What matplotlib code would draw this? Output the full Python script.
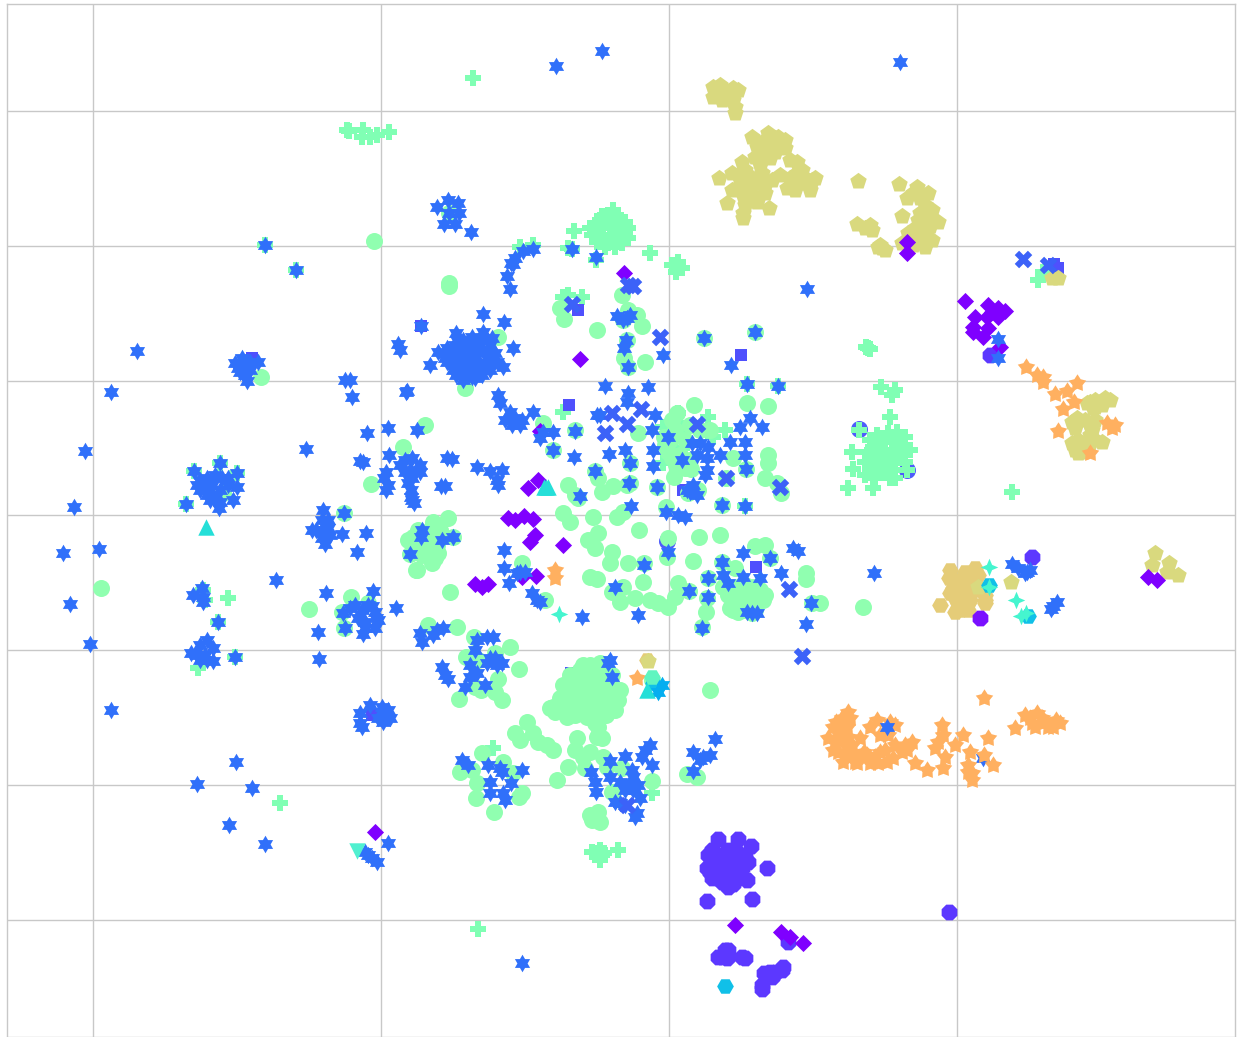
"""
Scatter of embedded points, one marker and colour per class.
Point values are read off the picture, axes run in the same units.
"""

import numpy as np
import matplotlib
matplotlib.use("Agg")
import matplotlib.pyplot as plt
from matplotlib.path import Path

x_ticks = [93, 381, 669, 957]
y_ticks = [111, 246, 381, 515, 650, 785, 920]

blue_circle = [(859, 429), (907, 470), (667, 541)]

plus_pts = [
    (473, 78), (347, 130), (349, 131), (363, 130), (362, 137), (370, 137), (377, 135), (389, 132), (478, 929),
    (280, 803), (228, 598), (198, 668), (574, 231), (568, 248), (650, 253), (672, 265), (678, 262), (682, 268),
    (676, 272), (613, 210), (600, 220), (608, 215), (616, 215), (625, 222), (625, 232), (618, 240), (608, 243),
    (600, 238), (595, 230), (610, 228), (617, 228), (603, 228), (610, 235), (595, 225), (628, 228), (602, 216),
    (618, 220), (590, 228), (592, 235), (597, 242), (605, 247), (615, 247), (622, 243), (628, 238),
    (604, 222), (612, 222), (620, 226), (622, 236), (613, 236), (604, 241),
    (598, 233), (568, 295), (582, 297), (563, 297), (533, 245), (520, 247), (596, 260), (868, 348), (866, 347),
    (870, 349), (881, 387), (892, 395), (895, 390), (890, 417), (1012, 492), (848, 488), (873, 488), (853, 469),
    (852, 452), (870, 440), (877, 435), (888, 433), (897, 432), (905, 437), (910, 450), (905, 462), (895, 470),
    (890, 478), (875, 478), (865, 475), (865, 462), (872, 450), (885, 450), (895, 450), (880, 465), (890, 462),
    (900, 445), (868, 452), (880, 442), (907, 470), (859, 430), (876, 445), (884, 442), (892, 440), (900, 440),
    (875, 457), (882, 456), (890, 455), (900, 457), (878, 470), (885, 472), (895, 478), (870, 468), (872, 462),
    (883, 465), (895, 463), (905, 455), (1038, 280), (1043, 272), (592, 852), (600, 850),
    (602, 855), (600, 860), (618, 850), (597, 853), (604, 853), (652, 793), (493, 748), (563, 412), (678, 413),
    (663, 427), (708, 417), (673, 437), (682, 448), (672, 452), (663, 463), (713, 437), (725, 430), (677, 423),
    (680, 430), (670, 447), (675, 455), (265, 245), (296, 270), (194, 471), (220, 463), (237, 473), (186, 504),
    (218, 622), (235, 657), (203, 590), (205, 600), (572, 249), (747, 384), (778, 386), (745, 506),
]

square_pts = [
    (421, 326), (578, 310), (741, 355), (569, 405), (252, 358), (1054, 264), (1058, 268), (571, 673), (756, 567),
    (372, 715), (683, 490),
]

circle_pts = [
    (374, 241), (449, 283), (449, 286), (261, 377), (101, 588), (309, 609), (710, 690), (863, 607), (465, 388),
    (425, 425), (403, 447), (371, 484), (344, 513), (351, 597), (368, 603), (342, 612), (344, 628), (416, 570),
    (223, 493), (622, 295), (560, 308), (564, 319), (597, 330), (628, 310), (637, 315), (642, 326), (623, 320),
    (627, 340), (624, 358), (628, 367), (645, 362), (704, 338), (755, 332), (498, 337), (449, 213), (543, 423),
    (553, 450), (575, 430), (638, 433), (595, 471), (598, 478), (630, 463), (613, 486), (602, 492), (630, 483),
    (627, 485), (568, 485), (575, 495), (578, 498), (657, 487), (691, 469), (674, 477), (733, 458), (746, 469),
    (747, 403), (768, 406), (677, 413), (694, 405), (768, 455), (768, 463), (765, 478), (777, 483), (781, 493),
    (698, 490), (688, 493), (726, 478), (722, 505), (617, 517), (623, 512), (563, 513), (570, 522), (593, 517),
    (639, 530), (666, 507), (588, 540), (598, 533), (595, 548), (612, 552), (610, 563), (628, 563), (644, 563),
    (668, 538), (667, 557), (699, 537), (720, 535), (693, 561), (590, 577), (597, 579), (643, 582), (623, 587),
    (612, 592), (620, 602), (635, 598), (650, 600), (658, 603), (668, 607), (678, 583), (675, 597), (689, 591),
    (708, 578), (707, 598), (706, 612), (702, 627), (722, 562), (735, 568), (755, 546), (765, 545), (770, 558),
    (806, 579), (806, 573), (812, 603), (820, 603), (733, 597), (733, 610), (747, 593), (753, 587), (763, 600),
    (743, 603), (752, 613), (723, 587), (738, 587), (760, 590), (728, 595), (740, 600), (750, 600), (755, 595),
    (745, 585), (735, 605), (745, 610), (755, 610), (765, 595), (730, 608), (738, 612), (450, 592), (417, 570),
    (432, 563), (413, 537), (433, 522), (448, 518), (438, 553), (428, 550), (423, 543), (432, 537), (410, 554),
    (453, 537), (418, 530), (425, 535), (428, 545), (422, 555), (430, 530), (440, 530), (415, 550), (437, 545),
    (435, 558), (408, 540), (545, 600), (672, 420), (690, 425), (675, 430), (685, 440), (670, 440), (665, 445),
    (700, 430), (710, 430), (680, 455), (690, 460), (685, 468), (676, 465), (672, 458), (664, 437), (668, 452),
    (522, 563), (457, 627), (428, 625), (510, 647), (519, 669), (474, 637), (466, 657), (498, 679), (481, 690),
    (495, 692), (502, 700), (459, 699), (475, 687), (478, 660), (495, 653), (570, 675), (563, 685), (553, 707),
    (567, 717), (580, 670), (600, 663), (613, 687), (618, 700), (607, 707), (595, 723), (587, 717), (577, 697),
    (590, 687), (600, 697), (590, 673), (607, 677), (573, 710), (600, 680), (585, 700), (563, 710), (593, 710),
    (613, 700), (575, 680), (585, 680), (595, 670), (605, 665), (612, 675), (568, 695), (575, 705), (590, 695),
    (605, 690), (610, 695), (600, 710), (585, 712), (575, 715), (595, 715), (605, 700), (585, 690), (570, 690),
    (580, 690), (560, 698), (620, 690), (615, 710), (606, 715), (598, 727), (583, 665), (590, 665), (550, 708),
    (555, 712), (597, 737), (602, 738), (527, 722), (515, 733), (520, 740), (533, 733), (538, 742), (547, 745),
    (553, 750), (577, 738), (575, 750), (590, 752), (583, 757), (603, 757), (568, 767), (557, 780), (585, 768),
    (613, 792), (590, 815), (598, 812), (600, 822), (592, 820), (460, 772), (477, 783), (482, 753), (472, 770),
    (503, 762), (513, 773), (522, 793), (519, 797), (476, 798), (494, 812), (607, 767), (622, 768), (652, 781),
    (612, 792), (687, 774), (697, 777), (652, 680),
]

hexagon_pts = [
    (949, 578), (965, 572), (975, 568), (940, 605), (953, 588), (962, 595), (968, 583), (960, 610), (958, 603),
    (968, 603), (985, 603), (985, 595), (950, 593), (955, 598), (965, 590), (972, 575), (960, 580), (975, 590),
    (950, 570), (952, 580), (968, 610), (955, 612), (978, 575), (970, 600), (985, 600), (647, 660),
]

pentagon_pts = [
    (713, 87), (718, 93), (733, 88), (728, 98), (713, 97), (735, 113), (735, 107), (738, 90), (720, 85), (725, 92),
    (730, 95), (722, 100), (733, 100), (752, 137),
    (768, 133), (778, 137), (785, 140), (770, 145), (785, 148), (765, 153), (755, 157), (742, 162), (732, 173),
    (719, 178), (740, 180), (732, 190), (743, 195), (750, 183), (762, 173), (765, 185), (765, 193), (757, 202),
    (727, 203), (769, 208), (743, 218), (743, 213), (780, 175), (797, 162), (802, 170), (797, 173), (812, 180),
    (810, 190), (787, 188), (800, 183), (815, 178), (745, 173), (752, 178), (757, 183), (750, 190), (738, 187),
    (745, 205), (752, 195), (772, 180), (790, 178), (805, 178), (795, 190), (775, 138), (780, 145), (762, 142),
    (757, 147), (775, 152), (790, 160), (745, 170), (760, 165), (770, 158), (858, 181), (899, 184), (917, 187),
    (928, 193), (907, 198),
    (913, 193), (902, 216), (920, 213), (932, 210), (938, 222), (923, 223), (928, 218), (908, 233), (922, 235),
    (932, 240), (925, 247), (857, 224), (865, 228), (872, 230), (882, 248), (878, 247), (885, 250), (902, 243),
    (925, 205), (918, 220), (930, 226), (915, 228), (920, 198), (925, 232), (918, 240),
    (913, 245), (870, 225), (880, 245),
    (1058, 278), (1052, 278), (1090, 402), (1100, 402), (1110, 400), (1087, 403), (1095, 407), (1077, 418),
    (1072, 422), (1090, 425), (1092, 430), (1072, 443), (1078, 453), (1078, 440), (1090, 443), (1102, 442),
    (1095, 400), (1105, 398), (1093, 408), (1102, 405), (1085, 420), (1075, 428), (1095, 420),
    (1085, 445), (1095, 440), (1083, 452), (1075, 450), (1090, 435),
    (1011, 582), (978, 587), (1155, 553), (1152, 565), (1169, 563), (1167, 572), (1178, 575), (648, 661),
]

octagon_pts = [
    (718, 839), (738, 839), (751, 846), (767, 868), (752, 899), (707, 901), (728, 887), (708, 855), (707, 868),
    (712, 878), (720, 855), (730, 855), (738, 860), (742, 868), (738, 878), (730, 880), (720, 875), (715, 865),
    (725, 868), (733, 868), (725, 860), (735, 873), (722, 880), (712, 850), (745, 855), (748, 862),
    (747, 880), (715, 858), (710, 872), (735, 850), (728, 850), (718, 868), (722, 882),
    (733, 884), (740, 872), (728, 875), (949, 912), (788, 942), (725, 950), (722, 957), (728, 950), (718, 957),
    (723, 955), (727, 958), (742, 957), (745, 958), (764, 973), (783, 967), (782, 970), (776, 972), (770, 972),
    (772, 977), (762, 989), (762, 985), (1032, 557), (990, 355),
]
octagon_dark_pts = [(980, 618)]

diamond_pts = [
    (965, 301), (988, 305), (998, 308), (1005, 311), (992, 312), (975, 317), (998, 317), (987, 317), (973, 327),
    (973, 332), (988, 328), (983, 337), (1000, 347), (907, 253), (907, 242), (624, 273), (580, 359), (540, 431),
    (538, 480), (528, 488), (508, 518), (515, 520), (524, 516), (533, 519), (535, 535), (530, 542), (563, 545),
    (475, 584), (482, 587), (488, 584), (522, 577), (536, 576), (375, 832), (735, 925), (781, 932), (790, 937),
    (803, 943), (1148, 577), (1157, 580),
]

star_pts = [
    (602, 51), (556, 66), (900, 62), (137, 351), (111, 392), (85, 451), (74, 507), (63, 553), (99, 549), (70, 604),
    (90, 644), (111, 710), (236, 762), (197, 784), (252, 788), (229, 825), (265, 844), (522, 963), (807, 289),
    (306, 449), (276, 580), (319, 659), (874, 573), (471, 232), (437, 207), (448, 200), (458, 203), (449, 213),
    (459, 213), (444, 224), (455, 224), (265, 245), (296, 270), (533, 249), (523, 251), (515, 258), (513, 264),
    (511, 263), (507, 276), (510, 289), (572, 249), (596, 257), (483, 314), (504, 322), (456, 333), (438, 352),
    (430, 365), (513, 348), (503, 367), (457, 340), (483, 332),
    # big blob around (471, 356)
    (455, 345), (463, 340), (472, 337), (482, 340), (490, 345), (495, 353), (497, 362), (490, 370), (482, 375),
    (472, 377), (462, 375), (453, 370), (447, 362), (448, 353), (460, 350), (470, 348), (480, 350), (487, 358),
    (478, 365), (468, 367), (458, 360), (468, 357), (476, 357), (462, 367), (485, 365), (445, 358), (456, 375),
    (474, 371), (492, 338), (467, 343), (478, 344), (447, 348), (455, 355), (463, 358), (472, 352), (480, 345),
    (488, 350), (492, 358), (483, 370), (465, 372), (455, 365), (490, 362), (472, 342), (460, 345), (468, 362),
    (478, 352), (463, 380), (475, 378),
    (235, 363), (242, 358), (250, 362), (258, 362), (245, 367), (238, 368), (250, 370), (245, 375), (247, 381),
    (240, 372), (421, 326), (360, 713), (360, 723), (362, 727), (370, 705), (382, 707), (383, 713), (378, 718),
    (383, 722), (390, 718), (388, 710),
    (350, 380), (345, 380), (352, 397), (400, 350), (398, 344), (406, 392), (367, 433), (388, 428), (363, 462),
    (360, 461), (389, 455), (417, 430), (400, 465), (405, 460), (412, 458), (420, 465), (410, 470), (415, 472),
    (405, 472), (420, 472), (412, 478), (386, 472), (384, 478), (388, 485), (386, 490), (408, 483), (411, 490),
    (411, 497), (414, 503), (194, 471), (220, 463), (237, 473), (186, 504), (219, 508), (233, 500), (237, 487),
    (200, 480), (207, 478), (215, 475), (222, 478), (200, 490), (207, 495), (214, 497), (220, 502), (205, 488),
    (212, 485), (220, 490), (228, 485), (228, 478), (197, 485), (210, 500), (344, 513), (323, 510), (312, 530),
    (322, 520), (316, 530), (322, 530), (328, 528), (330, 535), (322, 538), (328, 520), (325, 544), (342, 534),
    (366, 533), (357, 552), (326, 593), (373, 591), (318, 632), (343, 613), (350, 608), (355, 605), (362, 610),
    (368, 605), (375, 612), (378, 620), (375, 628), (365, 622), (358, 618), (365, 628), (345, 628), (363, 634),
    (372, 606), (376, 618), (193, 595), (202, 588), (203, 597), (203, 602), (218, 622), (235, 657), (191, 653),
    (200, 645), (207, 640), (213, 648), (205, 655), (197, 655), (207, 660), (213, 661), (200, 660), (422, 530),
    (421, 537), (442, 540), (453, 537), (410, 554), (407, 391), (498, 395), (500, 403), (505, 420), (510, 412),
    (515, 418), (520, 425), (512, 425), (522, 420), (533, 412), (543, 432), (540, 438), (553, 432), (575, 431),
    (605, 386), (628, 393), (627, 402), (648, 387), (597, 415), (600, 415), (655, 415), (747, 384), (778, 386),
    (740, 427), (750, 418), (762, 427), (668, 437), (652, 430), (730, 442), (745, 442), (745, 455), (746, 469),
    (720, 455), (692, 443), (700, 443), (708, 447), (697, 455), (707, 458), (707, 470), (705, 475), (682, 460),
    (653, 450), (625, 450), (609, 454), (574, 457), (630, 463), (653, 466), (553, 450), (477, 467), (490, 471),
    (502, 470), (497, 480), (498, 485), (447, 458), (452, 459), (441, 486), (445, 486), (412, 500), (595, 471),
    (629, 483), (657, 487), (693, 485), (690, 492), (697, 495), (687, 490), (580, 496), (631, 506), (666, 512),
    (678, 515), (685, 517), (722, 505), (745, 506), (504, 550), (504, 568), (509, 583), (520, 572), (525, 572),
    (517, 573), (532, 593), (537, 600), (540, 602), (582, 617), (638, 615), (615, 587), (644, 565), (668, 552),
    (689, 591), (708, 597), (708, 578), (722, 562), (743, 553), (770, 558), (723, 575), (728, 583), (743, 577),
    (760, 578), (793, 548), (798, 551), (781, 573), (811, 603), (806, 624), (752, 613), (702, 628), (747, 612),
    (757, 613), (420, 633), (437, 630), (443, 628), (422, 642), (433, 635), (477, 640), (487, 637), (493, 637),
    (475, 650), (490, 658), (495, 658), (502, 663), (487, 663), (497, 665), (470, 665), (477, 673), (470, 677),
    (485, 685), (465, 687), (442, 667), (445, 675), (448, 679), (610, 660), (608, 663), (612, 677), (462, 760),
    (468, 765), (488, 765), (500, 768), (502, 772), (522, 770), (490, 782), (511, 783), (490, 793), (503, 793),
    (505, 800), (650, 745), (645, 750), (642, 757), (652, 765), (625, 756), (610, 761), (591, 772), (610, 777),
    (595, 782), (596, 792), (632, 770), (633, 777), (620, 782), (630, 783), (638, 785), (625, 790), (633, 790),
    (640, 798), (620, 803), (625, 805), (637, 813), (635, 817), (615, 802), (715, 739), (693, 752), (703, 757),
    (710, 755), (700, 760), (693, 771), (983, 758), (1012, 564), (1018, 568), (1027, 572), (1030, 570),
    (1025, 573), (1057, 602), (1053, 606), (1051, 609), (704, 338), (755, 332), (731, 365), (998, 339), (998, 358),
    (626, 340), (624, 348), (628, 367), (617, 316), (627, 318), (623, 320), (630, 315), (663, 355), (368, 855),
    (377, 862), (388, 843), (365, 852), (372, 858),
]

x_pts = [
    (660, 337), (572, 304), (633, 286), (628, 285), (1023, 259), (1048, 265), (605, 433), (627, 424), (641, 409),
    (612, 413), (780, 487), (789, 589), (802, 656), (697, 424), (726, 478), (627, 805),
]

orange_pts = [
    (842, 718), (850, 718), (833, 727), (828, 738), (833, 750), (843, 762), (857, 763), (870, 763), (887, 762),
    (902, 752), (912, 742), (880, 752), (860, 738), (840, 740), (840, 727), (847, 747), (853, 753), (867, 755),
    (893, 758), (907, 750), (877, 720), (870, 727), (890, 722), (895, 725), (888, 735), (880, 735),
    (848, 737), (847, 727), (835, 740), (838, 733), (845, 755), (852, 745), (862, 755), (875, 757), (885, 750),
    (895, 745), (905, 745), (855, 762), (838, 752), (836, 722), (845, 722), (848, 712), (864, 752),
    (878, 763), (915, 763), (927, 770), (943, 768), (945, 757), (935, 748), (942, 725),
    (943, 735), (938, 742), (955, 745), (963, 735), (970, 752), (988, 738), (984, 755), (993, 765), (968, 772),
    (972, 780), (972, 773), (968, 765), (984, 698), (1015, 728), (1025, 715), (1037, 713), (1032, 723),
    (1045, 722), (1030, 718), (1042, 718), (1035, 727), (1048, 727), (1056, 720),
    (1053, 727), (1060, 723), (1026, 367), (1037, 375), (1043, 377), (1043, 382), (1055, 394), (1067, 391),
    (1077, 383), (1074, 402), (1063, 409), (1058, 431), (1090, 453), (1107, 423), (1115, 425), (1112, 428),
    (555, 570), (555, 578), (637, 678),
]

star_top_pts = [(887, 727), (396, 608)]
cyan_star_pts = [(662, 685), (658, 692)]
cyan_hex_pts = [(725, 986), (989, 585), (1028, 616), (653, 683)]
triangle_pts = [(206, 527), (546, 487), (544, 487), (548, 487), (647, 690)]
triangle_down_pts = [(357, 851)]
sparkle_pts = [(559, 614), (989, 567), (1016, 600), (989, 587), (1021, 616), (1026, 613)]
mint_hex_pts = [(652, 677)]

star6 = Path.unit_regular_star(6, 0.58)
star5 = Path.unit_regular_star(5, 0.58)
star4 = Path.unit_regular_star(4, 0.42)

# drawing order matters, stars sit on the circles, orange on the pentagons
layers = [
    (blue_circle, "o", "#4e5cfa", 150),
    (plus_pts, "P", "#80ffb4", 140),
    (square_pts, "s", "#4f50fd", 66),
    (circle_pts, "o", "#90ffb0", 150),
    (hexagon_pts, "H", "#e5cc78", 145),
    (pentagon_pts, "p", "#d9d97e", 155),
    (octagon_pts, "8", "#5c38ff", 150),
    (octagon_dark_pts, "8", "#7a10ff", 150),
    (diamond_pts, "D", "#7f00ff", 76),
    (star_pts, star6, "#3070fa", 160),
    (x_pts, "X", "#3c62f8", 160),
    (orange_pts, star5, "#ffb060", 175),
    (star_top_pts, star6, "#3070fa", 160),
    (cyan_hex_pts, "H", "#10c0e8", 145),
    (cyan_star_pts, star6, "#05aef0", 160),
    (triangle_pts, "^", "#25dfd8", 140),
    (triangle_down_pts, "v", "#50f0d0", 140),
    (sparkle_pts, star4, "#45f5cf", 160),
    (mint_hex_pts, "H", "#60f5c0", 145),
]


def main():
    plt.rcParams["font.family"] = ["DejaVu Sans"]
    fig = plt.figure(figsize=(12.39, 10.37), dpi=100)
    ax = fig.add_axes([7 / 1239, 0, 1228 / 1239, 1033 / 1037])
    ax.set_xlim(7, 1235)
    ax.set_ylim(1037, 4)

    ax.set_xticks(x_ticks)
    ax.set_yticks(y_ticks)
    ax.tick_params(length=0, labelbottom=False, labelleft=False)
    ax.grid(True, color="#c8c8c8", linewidth=1)
    ax.set_axisbelow(True)
    for spine in ax.spines.values():
        spine.set_color("#c8c8c8")
        spine.set_linewidth(1)

    for pts, marker, color, size in layers:
        arr = np.array(pts, dtype=float)
        ax.scatter(arr[:, 0], arr[:, 1], marker=marker, c=color, s=size, linewidths=0)

    fig.savefig("out.png", dpi=100)
    plt.close(fig)


if __name__ == "__main__":
    main()
